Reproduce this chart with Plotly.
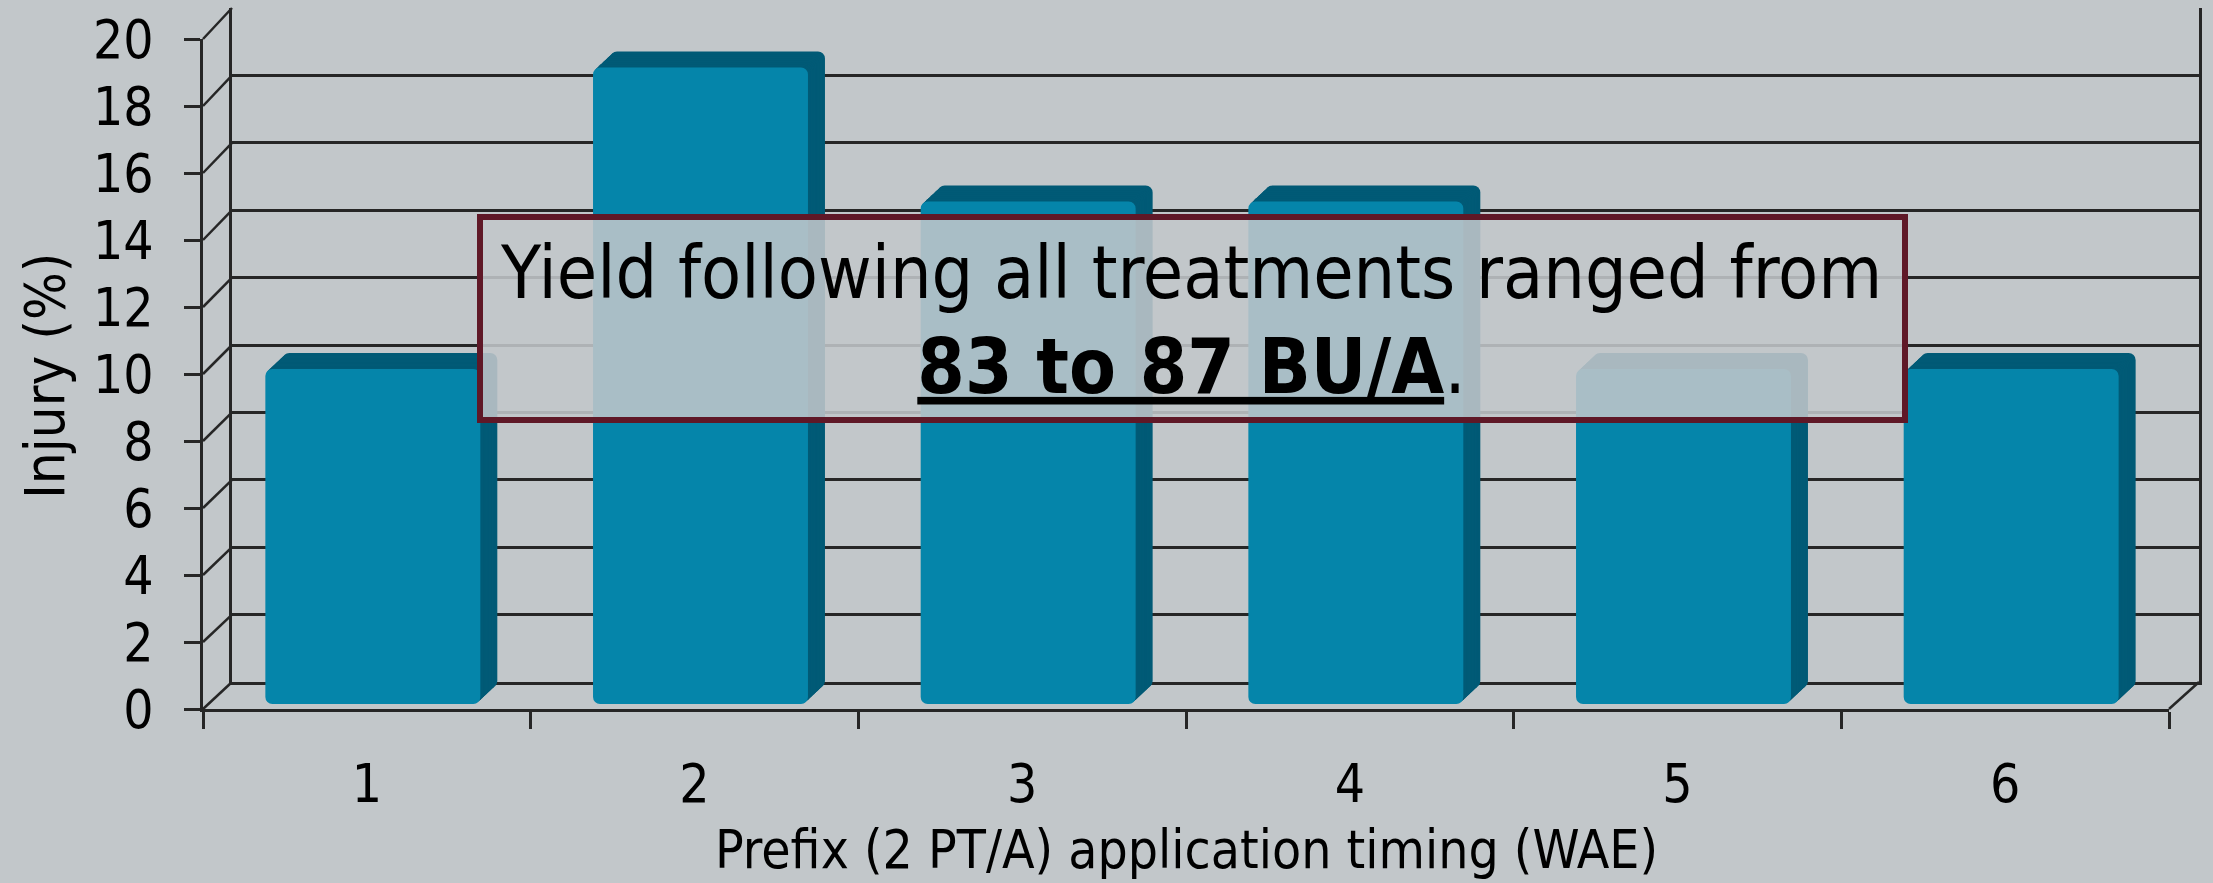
import plotly.graph_objects as go

# ---- data ----
categories = ["1", "2", "3", "4", "5", "6"]
injury = [10, 19, 15, 15, 10, 10]
y_ticks = list(range(0, 21, 2))
y_title = "Injury (%)"
x_title = "Prefix (2 PT/A) application timing (WAE)"
note_line1 = "Yield following all treatments ranged from"
note_line2 = "83 to 87 BU/A"

# ---- geometry (pixels) ----
W, H = 2213, 883
FRONT_X = (203, 2169)
FRONT_Y = (709, 39)      # y pixel of 0 and 20
BACK_X = (232, 2199)
BACK_Y = (682, 8)
YMAX = 20

def px(x):
    return x / W

def py(y):
    return 1 - y / H

BG = "#c2c7ca"
LINE = "#262626"
FONT = "DejaVu Sans Condensed, DejaVu Sans, sans-serif"

cat_px = (FRONT_X[1] - FRONT_X[0]) / len(categories)
unit_px = (FRONT_Y[0] - FRONT_Y[1]) / YMAX
bar_w = 0.656

fig = go.Figure()

# 3D-looking bars: stacked depth layers (back -> front)
N = 12
for i in range(N, -1, -1):
    s = i / N
    dx = 6 + 17 * s
    dy = 5 + 16 * s
    color = "#0585aa" if i == 0 else "#015a76"
    fig.add_trace(go.Bar(
        x=categories, y=injury,
        base=[dy / unit_px] * len(injury),
        width=[bar_w] * len(injury),
        offset=[-bar_w / 2 + dx / cat_px] * len(injury),
        marker=dict(color=color, line=dict(width=0), cornerradius=7),
        xaxis="x2", yaxis="y2", hoverinfo="skip", showlegend=False,
    ))

# dummy trace to activate back-wall subplot
fig.add_trace(go.Scatter(x=[None], y=[None], xaxis="x", yaxis="y",
                         showlegend=False, hoverinfo="skip"))

# side-wall diagonals and floor edges
shapes = []
for v in y_ticks:
    yf = FRONT_Y[0] - v * (FRONT_Y[0] - FRONT_Y[1]) / YMAX
    yb = BACK_Y[0] - v * (BACK_Y[0] - BACK_Y[1]) / YMAX
    shapes.append(dict(type="line", xref="paper", yref="paper",
                       x0=px(FRONT_X[0]), y0=py(yf), x1=px(BACK_X[0]), y1=py(yb),
                       line=dict(color=LINE, width=2.5), layer="below"))
shapes.append(dict(type="line", xref="paper", yref="paper",
                   x0=px(FRONT_X[1]), y0=py(FRONT_Y[0]), x1=px(BACK_X[1]), y1=py(BACK_Y[0]),
                   line=dict(color=LINE, width=2.5), layer="below"))
# text box
shapes.append(dict(type="rect", xref="paper", yref="paper",
                   x0=px(480), x1=px(1905), y0=py(420), y1=py(217),
                   line=dict(color="#5f1827", width=6),
                   fillcolor="rgba(194,199,202,0.87)", layer="above"))

annotations = [
    dict(text=note_line1 + "<br><span style='font-size:76px'><u><b>"
         + note_line2 + "</b></u>.</span>",
         xref="paper", yref="paper", x=px(1191), y=py(320),
         xanchor="center", yanchor="middle", showarrow=False,
         font=dict(family=FONT, size=73, color="black"), align="center"),
    dict(text=y_title, xref="paper", yref="paper", x=px(44), y=py(376),
         xanchor="center", yanchor="middle", textangle=-90, showarrow=False,
         font=dict(family=FONT, size=56, color="black")),
    dict(text=x_title, xref="paper", yref="paper", x=px(1186), y=py(849),
         xanchor="center", yanchor="middle", showarrow=False,
         font=dict(family=FONT, size=53, color="black")),
]

fig.update_layout(
    template="none",
    width=W, height=H,
    margin=dict(l=0, r=0, t=0, b=0, pad=0, autoexpand=False),
    paper_bgcolor=BG, plot_bgcolor="rgba(0,0,0,0)",
    barmode="overlay",
    shapes=shapes, annotations=annotations,
    # back wall
    xaxis=dict(domain=[px(BACK_X[0]), px(BACK_X[1])], anchor="y",
               range=[0, 1], showgrid=False, zeroline=False,
               showticklabels=False, ticks="", showline=True,
               linecolor=LINE, linewidth=2.5, fixedrange=True, automargin=False),
    yaxis=dict(domain=[py(BACK_Y[0]), py(BACK_Y[1])], anchor="x",
               range=[0, YMAX], tickvals=y_ticks, showgrid=True,
               gridcolor=LINE, gridwidth=2.5, zeroline=False,
               showticklabels=False, ticks="", showline=True, mirror=True,
               linecolor=LINE, linewidth=2.5, fixedrange=True, automargin=False),
    # front axes
    xaxis2=dict(domain=[px(FRONT_X[0]), px(FRONT_X[1])], anchor="y2",
                type="category", range=[-0.5, len(categories) - 0.5],
                tickson="boundaries", ticks="outside", ticklen=17,
                tickwidth=2.5, tickcolor=LINE, showline=True,
                linecolor=LINE, linewidth=2.5, showgrid=False,
                zeroline=False, ticklabelstandoff=27, automargin=False,
                tickfont=dict(family=FONT, size=53, color="black"),
                fixedrange=True),
    yaxis2=dict(domain=[py(FRONT_Y[0]), py(FRONT_Y[1])], anchor="x2",
                range=[0, YMAX], tickvals=y_ticks, ticks="outside",
                ticklen=16, tickwidth=2.5, tickcolor=LINE, showline=True,
                linecolor=LINE, linewidth=2.5, showgrid=False,
                zeroline=False, ticklabelstandoff=20, automargin=False,
                tickfont=dict(family=FONT, size=53, color="black"),
                fixedrange=True),
)

fig.write_html(
    "out.html",
    config={"displayModeBar": False},
    post_script="document.body.style.margin='0';document.body.style.overflow='hidden';",
)
